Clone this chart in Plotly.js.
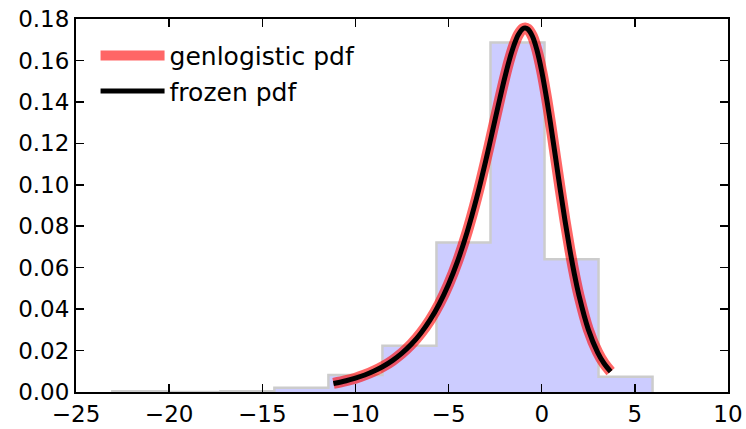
<!DOCTYPE html>
<html>
<head>
<meta charset="utf-8">
<script src="https://cdn.plot.ly/plotly-3.0.1.min.js"></script>
<style>html,body{margin:0;padding:0;background:#fff;}#chart{width:746px;height:429px;}</style>
</head>
<body>
<div id="chart"></div>
<script>
// Histogram (density)
const binEdges = [-23.05, -20.15, -17.25, -14.35, -11.45, -8.55, -5.65, -2.75, 0.15, 3.05, 5.95];
const binDensity = [0.00035, 0.0, 0.00035, 0.0021, 0.0082, 0.0223, 0.0722, 0.1686, 0.0641, 0.0073];

// pdf curve points
const curveX = [-11.18, -10.5, -10, -9.5, -9, -8.5, -8, -7.5, -7, -6.5, -6, -5.5, -5, -4.5, -4, -3.5, -3, -2.5, -2.25, -2, -1.75, -1.5, -1.25, -1, -0.887, -0.75, -0.5, -0.25, 0, 0.25, 0.5, 0.75, 1, 1.25, 1.5, 1.75, 2, 2.5, 3, 3.35, 3.7];
const curveY = [0.00412, 0.00545, 0.00669, 0.00822, 0.0101, 0.01241, 0.01525, 0.01874, 0.02301, 0.02825, 0.03466, 0.04248, 0.05201, 0.06354, 0.07727, 0.09339, 0.1118, 0.1316, 0.1415, 0.1511, 0.1598, 0.1671, 0.1725, 0.1754, 0.1757, 0.1752, 0.1717, 0.1648, 0.1548, 0.1423, 0.128, 0.1127, 0.0974, 0.0827, 0.0692, 0.0571, 0.0466, 0.0302, 0.01916, 0.01377, 0.00984];

const seriesNames = ['genlogistic pdf', 'frozen pdf'];

// Build stepfilled outline from edges and densities
const stepX = [binEdges[0]];
const stepY = [0];
for (let i = 0; i < binDensity.length; i++) { stepX.push(binEdges[i]); stepY.push(binDensity[i]); }
stepX.push(binEdges[binEdges.length - 1]); stepY.push(binDensity[binDensity.length - 1]);
stepX.push(binEdges[binEdges.length - 1]); stepY.push(0);

const font = 'DejaVu Sans, sans-serif';

const traces = [
  {
    x: stepX, y: stepY, type: 'scatter', mode: 'lines',
    line: {shape: 'hv', color: '#cccccc', width: 2.5},
    fill: 'tozeroy', fillcolor: 'rgba(0,0,255,0.2)',
    showlegend: false, hoverinfo: 'skip'
  },
  {
    x: curveX, y: curveY, type: 'scatter', mode: 'lines', name: seriesNames[0],
    line: {color: 'rgba(255,0,0,0.6)', width: 11, shape: 'spline'},
    legendgroup: 'a'
  },
  {
    x: curveX, y: curveY, type: 'scatter', mode: 'lines', name: seriesNames[1],
    line: {color: '#000000', width: 5, shape: 'spline'},
    legendgroup: 'b'
  }
];

const axisCommon = {
  showline: true, mirror: 'ticks', linecolor: '#000', linewidth: 2,
  ticks: 'inside', ticklen: 8, tickwidth: 1.5, tickcolor: '#000',
  showgrid: false, zeroline: false,
  tickfont: {family: font, size: 23, color: '#000'}
};

const layout = {
  width: 746, height: 429,
  margin: {l: 76, r: 18, t: 19, b: 37},
  paper_bgcolor: '#fff', plot_bgcolor: '#fff',
  font: {family: font, color: '#000'},
  xaxis: Object.assign({}, axisCommon, {range: [-25, 10], dtick: 5, tick0: 0}),
  yaxis: Object.assign({}, axisCommon, {range: [0, 0.18], dtick: 0.02, tick0: 0, tickformat: '.2f'}),
  showlegend: true,
  legend: {
    x: 0.03, y: 0.963, xanchor: 'left', yanchor: 'top',
    bgcolor: 'rgba(0,0,0,0)', borderwidth: 0,
    font: {family: font, size: 25, color: '#000'},
    itemwidth: 64, tracegroupgap: 0
  }
};

Plotly.newPlot('chart', traces, layout, {displayModeBar: false, staticPlot: true});
</script>
</body>
</html>
